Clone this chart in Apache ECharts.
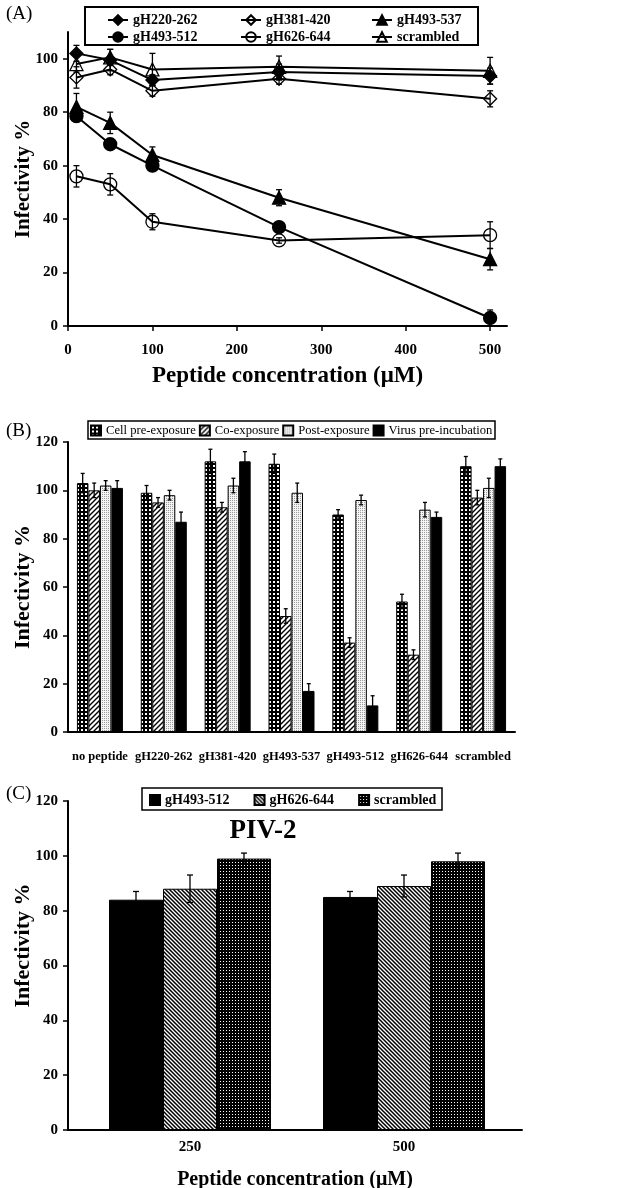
<!DOCTYPE html>
<html lang="en">
<head>
  <meta charset="UTF-8">
  <title>Infectivity</title>
  <style type="text/css">
    html, body { margin: 0; padding: 0; background: #fff; }
    #main { width: 619px; height: 1188px; }
  </style>
</head>
<body>
  <div id="main"></div>
</body>
<script type="text/javascript" src="https://cdn.jsdelivr.net/npm/echarts@6/dist/echarts.min.js"></script>
<script type="text/javascript">
  // ---- (A) infectivity vs peptide concentration ----
  var concA = [10, 50, 100, 250, 500];
  var gH220_262 = [102, 99.5, 92, 95, 93.5];
  var gH220_262_err = [3, 4, 2, 3, 3];
  var gH381_420 = [93, 96, 88, 92.5, 85];
  var gH381_420_err = [4, 2, 2, 2, 3];
  var gH493_537 = [82, 76, 64, 48, 25];
  var gH493_537_err = [5, 4, 3, 3, 4];
  var gH493_512 = [78.5, 68, 60, 37, 3];
  var gH493_512_err = [2, 1, 1, 1, 3];
  var gH626_644 = [56, 53, 39, 32, 34];
  var gH626_644_err = [4, 4, 3, 1, 5];
  var scrambledA = [98, 100.5, 96, 97, 95.5];
  var scrambledA_err = [3, 3, 6, 4, 5];
  var ticksAx = [0, 100, 200, 300, 400, 500];
  var ticksAy = [0, 20, 40, 60, 80, 100];

  // ---- (B) timing of addition ----
  var catsB = ['no peptide', 'gH220-262', 'gH381-420', 'gH493-537', 'gH493-512', 'gH626-644', 'scrambled'];
  var cellPre = [103, 99, 112, 111, 90, 54, 110];
  var cellPreErr = [4, 3, 5, 4, 2, 3, 4];
  var coExp = [100, 95, 93, 48, 37, 32, 97];
  var coExpErr = [3, 2, 2, 3, 2, 2, 3];
  var postExp = [102, 98, 102, 99, 96, 92, 101];
  var postExpErr = [2, 2, 3, 4, 2, 3, 4];
  var virusPre = [101, 87, 112, 17, 11, 89, 110];
  var virusPreErr = [3, 4, 4, 3, 4, 2, 3];

  // ---- (C) PIV-2 ----
  var catsC = ['250', '500'];
  var cGH493_512 = [84, 85];
  var cGH493_512Err = [3, 2];
  var cGH626_644 = [88, 89];
  var cGH626_644Err = [5, 4];
  var cScrambled = [99, 98];
  var cScrambledErr = [2, 3];

  var FONT = '"Liberation Serif", "DejaVu Serif", serif';

  // fill patterns drawn on small canvases
  function pattern(kind) {
    var c = document.createElement('canvas');
    var ctx;
    if (kind === 'grid' || kind === 'fine') {
      var s = kind === 'grid' ? 4 : 3;
      var w = kind === 'grid' ? 2 : 1;
      c.width = s; c.height = s;
      ctx = c.getContext('2d');
      ctx.fillStyle = '#000'; ctx.fillRect(0, 0, s, s);
      ctx.fillStyle = '#fff'; ctx.fillRect(1, 1, w, w);
    } else if (kind === 'dots') {
      c.width = 2; c.height = 2;
      ctx = c.getContext('2d');
      ctx.fillStyle = '#f4f4f4'; ctx.fillRect(0, 0, 2, 2);
      ctx.fillStyle = '#9a9a9a'; ctx.fillRect(0, 0, 1, 1);
    } else {
      // diagonal lines, 'fwd' = /, 'back' = \
      var p = kind === 'fwd' ? 5 : 4;
      c.width = p; c.height = p;
      ctx = c.getContext('2d');
      ctx.fillStyle = '#fff'; ctx.fillRect(0, 0, p, p);
      ctx.strokeStyle = '#000'; ctx.lineWidth = kind === 'fwd' ? 1.4 : 1.5;
      ctx.beginPath();
      if (kind === 'fwd') {
        ctx.moveTo(-1, p + 1); ctx.lineTo(p + 1, -1);
        ctx.moveTo(-1, 1); ctx.lineTo(1, -1);
        ctx.moveTo(p - 1, p + 1); ctx.lineTo(p + 1, p - 1);
      } else {
        ctx.moveTo(-1, -1); ctx.lineTo(p + 1, p + 1);
        ctx.moveTo(p - 1, -1); ctx.lineTo(p + 1, 1);
        ctx.moveTo(-1, p - 1); ctx.lineTo(1, p + 1);
      }
      ctx.stroke();
    }
    return { image: c, repeat: 'repeat' };
  }

  // error bar drawer, offset in px from the category/point centre
  function errBar(offset, cap) {
    return function (params, api) {
      var x = api.value(0), y = api.value(1), e = api.value(2);
      var hi = api.coord([x, y + e]);
      var lo = api.coord([x, y - e]);
      var cx = hi[0] + offset;
      var st = { stroke: '#000', lineWidth: 1.3 };
      return {
        type: 'group',
        children: [
          { type: 'line', shape: { x1: cx, y1: hi[1], x2: cx, y2: lo[1] }, style: st },
          { type: 'line', shape: { x1: cx - cap, y1: hi[1], x2: cx + cap, y2: hi[1] }, style: st },
          { type: 'line', shape: { x1: cx - cap, y1: lo[1], x2: cx + cap, y2: lo[1] }, style: st }
        ]
      };
    };
  }

  function pairs(xs, ys) {
    return ys.map(function (v, i) { return [xs[i], v]; });
  }
  function triples(xs, ys, es) {
    return ys.map(function (v, i) { return [xs[i], v, es[i]]; });
  }
  var idxB = catsB.map(function (d, i) { return i; });
  var idxC = catsC.map(function (d, i) { return i; });

  var axisLine = { lineStyle: { color: '#000', width: 2 } };
  var tick = { length: 5, lineStyle: { color: '#000', width: 1.5 } };
  var tickLabel = { color: '#000', fontFamily: FONT, fontWeight: 'bold', fontSize: 15 };
  function nameStyle(size, pad) {
    return { color: '#000', fontFamily: FONT, fontWeight: 'bold', fontSize: size, padding: pad || 0 };
  }

  var linesA = [
    { name: 'gH220-262', v: gH220_262, e: gH220_262_err, symbol: 'diamond', fill: '#000', size: 13 },
    { name: 'gH381-420', v: gH381_420, e: gH381_420_err, symbol: 'diamond', fill: 'rgba(0,0,0,0)', size: 13 },
    { name: 'gH493-537', v: gH493_537, e: gH493_537_err, symbol: 'triangle', fill: '#000', size: 13 },
    { name: 'gH493-512', v: gH493_512, e: gH493_512_err, symbol: 'circle', fill: '#000', size: 13 },
    { name: 'gH626-644', v: gH626_644, e: gH626_644_err, symbol: 'circle', fill: 'rgba(0,0,0,0)', size: 13 },
    { name: 'scrambled', v: scrambledA, e: scrambledA_err, symbol: 'triangle', fill: 'rgba(0,0,0,0)', size: 13 }
  ];

  var barsB = [
    { name: 'Cell pre-exposure', v: cellPre, e: cellPreErr, color: pattern('grid') },
    { name: 'Co-exposure', v: coExp, e: coExpErr, color: pattern('fwd') },
    { name: 'Post-exposure', v: postExp, e: postExpErr, color: pattern('dots') },
    { name: 'Virus pre-incubation', v: virusPre, e: virusPreErr, color: '#000' }
  ];

  // panel C series get a 'C:' prefix so the legend does not pick the panel A lines
  var barsC = [
    { name: 'C:gH493-512', v: cGH493_512, e: cGH493_512Err, color: '#000' },
    { name: 'C:gH626-644', v: cGH626_644, e: cGH626_644Err, color: pattern('back') },
    { name: 'C:scrambled', v: cScrambled, e: cScrambledErr, color: pattern('fine') }
  ];

  var series = [];
  linesA.forEach(function (s) {
    series.push({
      name: 'err ' + s.name, type: 'custom', xAxisIndex: 0, yAxisIndex: 0, z: 1,
      renderItem: errBar(0, 3), data: triples(concA, s.v, s.e)
    });
  });
  linesA.forEach(function (s) {
    series.push({
      name: s.name, type: 'line', xAxisIndex: 0, yAxisIndex: 0, z: 3,
      symbol: s.symbol, symbolSize: s.size,
      lineStyle: { color: '#000', width: 2 },
      itemStyle: { color: s.fill, borderColor: '#000', borderWidth: 1.3 },
      data: pairs(concA, s.v)
    });
  });

  var bwB = 11.5;
  barsB.forEach(function (s) {
    series.push({
      name: s.name, type: 'bar', xAxisIndex: 1, yAxisIndex: 1,
      barWidth: bwB, barGap: '0%',
      itemStyle: { color: s.color, borderColor: '#000', borderWidth: 1 },
      data: s.v
    });
  });
  barsB.forEach(function (s, i) {
    series.push({
      name: 'errB ' + s.name, type: 'custom', xAxisIndex: 1, yAxisIndex: 1, z: 5,
      renderItem: errBar((i - 1.5) * bwB, 2), data: triples(idxB, s.v, s.e)
    });
  });

  var bwC = 54;
  barsC.forEach(function (s) {
    series.push({
      name: s.name, type: 'bar', xAxisIndex: 2, yAxisIndex: 2,
      barWidth: bwC, barGap: '0%',
      itemStyle: { color: s.color, borderColor: '#000', borderWidth: 1 },
      data: s.v
    });
  });
  barsC.forEach(function (s, i) {
    series.push({
      name: 'errC ' + s.name, type: 'custom', xAxisIndex: 2, yAxisIndex: 2, z: 5,
      renderItem: errBar((i - 1) * bwC, 3), data: triples(idxC, s.v, s.e)
    });
  });

  var legendTextA = { color: '#000', fontFamily: FONT, fontWeight: 'bold', fontSize: 14 };
  function legendA(left, names) {
    return {
      left: left, top: 13, orient: 'vertical', itemGap: 3, itemWidth: 20, itemHeight: 12,
      data: names, textStyle: legendTextA, padding: 0
    };
  }

  function yName(size, pad) {
    return {
      name: 'Infectivity %', nameLocation: 'middle', nameGap: 34, nameMoveOverlap: false,
      nameTextStyle: nameStyle(size, pad)
    };
  }

  var option = {
    backgroundColor: '#fff',
    animation: false,
    grid: [
      { left: 68, top: 32, width: 439, height: 294, outerBoundsMode: 'none' },
      { left: 68, top: 442, width: 447, height: 290, outerBoundsMode: 'none' },
      // bars of panel C
      { left: 83, top: 801, width: 428, height: 329, outerBoundsMode: 'none' },
      // frame of panel C (axis lines, y labels, names)
      { left: 68, top: 801, width: 454, height: 329, outerBoundsMode: 'none' }
    ],
    legend: [
      legendA(107, ['gH220-262', 'gH493-512']),
      legendA(240, ['gH381-420', 'gH626-644']),
      legendA(371, ['gH493-537', 'scrambled']),
      {
        left: 90, top: 424, itemGap: 3, itemWidth: 10, itemHeight: 10, padding: 0, icon: 'rect',
        data: barsB.map(function (s) { return s.name; }),
        textStyle: { color: '#000', fontFamily: FONT, fontSize: 12.6 }
      },
      {
        left: 149, top: 793, itemGap: 24, itemWidth: 10, itemHeight: 10, padding: 0, icon: 'rect',
        data: barsC.map(function (s) { return s.name; }),
        formatter: function (name) { return name.replace('C:', ''); },
        textStyle: { color: '#000', fontFamily: FONT, fontWeight: 'bold', fontSize: 14 }
      }
    ],
    xAxis: [
      {
        type: 'value', gridIndex: 0, min: 0, max: 520, interval: 100,
        axisLine: axisLine, axisTick: { length: 5, lineStyle: tick.lineStyle, customValues: ticksAx },
        axisLabel: Object.assign({ margin: 17, customValues: ticksAx }, tickLabel),
        splitLine: { show: false },
        name: 'Peptide concentration (\u03bcM)', nameLocation: 'middle', nameGap: 39, nameTextStyle: nameStyle(23)
      },
      {
        type: 'category', gridIndex: 1, data: catsB,
        axisLine: axisLine, axisTick: tick,
        axisLabel: { color: '#000', fontFamily: FONT, fontWeight: 'bold', fontSize: 12.5, margin: 18, interval: 0 }
      },
      {
        type: 'category', gridIndex: 2, data: catsC,
        axisLine: { show: false }, axisTick: { show: false },
        axisLabel: Object.assign({ margin: 10 }, tickLabel)
      },
      {
        type: 'value', gridIndex: 3, min: 0, max: 1,
        axisLine: axisLine, axisTick: { show: false }, axisLabel: { show: false },
        splitLine: { show: false },
        name: 'Peptide concentration (\u03bcM)', nameLocation: 'middle', nameGap: 40, nameTextStyle: nameStyle(20)
      }
    ],
    yAxis: [
      Object.assign({
        type: 'value', gridIndex: 0, min: 0, max: 110, interval: 20,
        axisLine: { show: true, lineStyle: axisLine.lineStyle },
        axisTick: { show: true, length: 5, lineStyle: tick.lineStyle, customValues: ticksAy },
        axisLabel: Object.assign({ margin: 10, customValues: ticksAy }, tickLabel),
        splitLine: { show: false }
      }, yName(21)),
      Object.assign({
        type: 'value', gridIndex: 1, min: 0, max: 120, interval: 20,
        axisLine: { show: true, lineStyle: axisLine.lineStyle },
        axisTick: { show: true, length: 5, lineStyle: tick.lineStyle },
        axisLabel: Object.assign({ margin: 10 }, tickLabel),
        splitLine: { show: false }
      }, yName(22)),
      {
        type: 'value', gridIndex: 2, min: 0, max: 120, interval: 20, show: false
      },
      Object.assign({
        type: 'value', gridIndex: 3, min: 0, max: 120, interval: 20,
        axisLine: { show: true, lineStyle: axisLine.lineStyle },
        axisTick: { show: true, length: 5, lineStyle: tick.lineStyle },
        axisLabel: Object.assign({ margin: 10 }, tickLabel),
        splitLine: { show: false }
      }, yName(22, [0, 0, 0, 40]))
    ],
    graphic: [
      { type: 'rect', shape: { x: 85, y: 7, width: 393, height: 38 }, style: { fill: 'none', stroke: '#000', lineWidth: 2 }, z: 100 },
      { type: 'rect', shape: { x: 88, y: 421, width: 407, height: 18 }, style: { fill: 'none', stroke: '#000', lineWidth: 1.5 }, z: 100 },
      { type: 'rect', shape: { x: 142, y: 788, width: 300, height: 22 }, style: { fill: 'none', stroke: '#000', lineWidth: 1.5 }, z: 100 },
      { type: 'text', x: 6, y: 5, style: { text: '(A)', font: '19px ' + FONT, fill: '#000' } },
      { type: 'text', x: 6, y: 422, style: { text: '(B)', font: '19px ' + FONT, fill: '#000' } },
      { type: 'text', x: 6, y: 785, style: { text: '(C)', font: '19px ' + FONT, fill: '#000' } },
      { type: 'text', x: 263, y: 818, style: { text: 'PIV-2', font: 'bold 27px ' + FONT, fill: '#000', textAlign: 'center' } }
    ],
    series: series
  };

  var myChart = echarts.init(document.getElementById('main'));
  myChart.setOption(option);
</script>
</html>
